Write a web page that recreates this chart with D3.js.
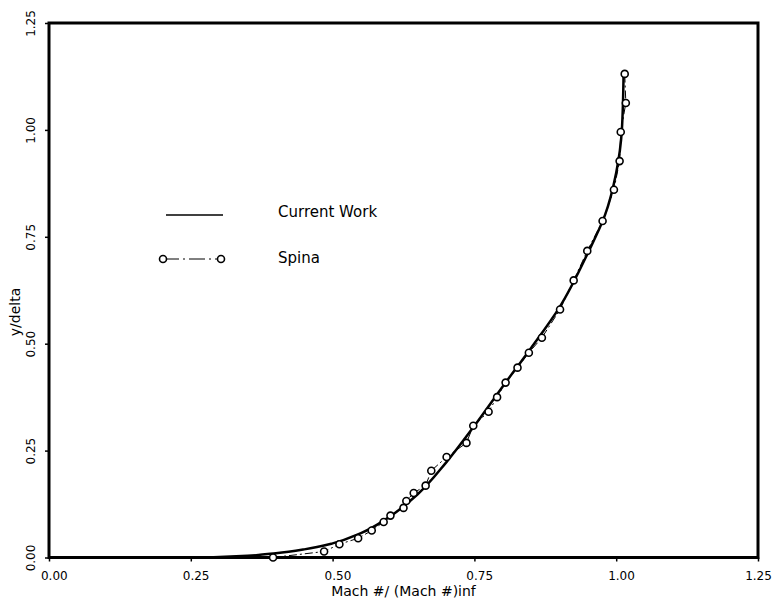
<!DOCTYPE html>
<meta charset="utf-8">
<script src="https://d3js.org/d3.v7.min.js"></script>
<style>
  body { margin: 0; background: #fff; }
  text { font-family: "DejaVu Sans", sans-serif; fill: #000; }
</style>
<div id="chart"></div>
<script>

// axis ticks
var xTicks = [0, 0.25, 0.5, 0.75, 1.0, 1.25];
var yTicks = [0, 0.25, 0.5, 0.75, 1.0, 1.25];

// current work (solid line)
var cwX = [0.28, 0.35, 0.40, 0.45, 0.50, 0.55, 0.60, 0.65, 0.70, 0.75, 0.80, 0.85, 0.90, 0.95, 0.98, 1.00, 1.010, 1.013];
var cwY = [0.000, 0.004, 0.010, 0.019, 0.033, 0.057, 0.095, 0.148, 0.222, 0.308, 0.400, 0.490, 0.585, 0.712, 0.800, 0.900, 1.000, 1.130];

// Spina data (circles)
var spX = [0.395, 0.485, 0.512, 0.545, 0.569, 0.590, 0.602, 0.625, 0.630, 0.643, 0.664, 0.674, 0.701, 0.736, 0.748, 0.775, 0.790, 0.805, 0.826, 0.846, 0.869, 0.901, 0.925, 0.949, 0.976, 0.996, 1.006, 1.008, 1.017, 1.015];
var spY = [0.000, 0.014, 0.031, 0.045, 0.063, 0.083, 0.098, 0.116, 0.132, 0.151, 0.168, 0.203, 0.235, 0.268, 0.308, 0.341, 0.375, 0.409, 0.444, 0.479, 0.514, 0.580, 0.648, 0.717, 0.787, 0.860, 0.927, 0.995, 1.063, 1.131];

var width = 774, height = 605;
var svg = d3.select("#chart").append("svg")
    .attr("width", width)
    .attr("height", height);

var x = d3.scaleLinear().domain([0, 1.25]).range([49, 758]);
var y = d3.scaleLinear().domain([0, 1.25]).range([557.5, 23]);

// x axis
svg.append("g")
    .attr("transform", "translate(0," + y(0) + ")")
    .call(d3.axisBottom(x).tickValues(xTicks).tickSize(4).tickFormat(d3.format(".2f")))
    .call(function(g) {
      g.select(".domain").remove();
      g.selectAll(".tick line").attr("stroke-width", 1.5);
      g.selectAll(".tick text").attr("font-size", 12).attr("dy", "1.3em")
        .attr("dx", function(d) { return d === 1.25 ? "0em" : "0.4em"; });
    });

// y axis, labels rotated
svg.append("g")
    .attr("transform", "translate(" + x(0) + ",0)")
    .call(d3.axisLeft(y).tickValues(yTicks).tickSize(4).tickFormat(d3.format(".2f")))
    .call(function(g) {
      g.select(".domain").remove();
      g.selectAll(".tick line").attr("stroke-width", 1.5);
      g.selectAll(".tick text")
        .attr("font-size", 12)
        .attr("text-anchor", "middle")
        .attr("x", null).attr("dy", null)
        .attr("transform", "translate(-14,0) rotate(-90)");
    });

// frame
svg.append("rect")
    .attr("x", x(0)).attr("y", y(1.25))
    .attr("width", x(1.25) - x(0)).attr("height", y(0) - y(1.25))
    .attr("fill", "none").attr("stroke", "#000").attr("stroke-width", 3);

// axis titles
svg.append("text")
    .attr("x", (x(0) + x(1.25)) / 2).attr("y", 596)
    .attr("text-anchor", "middle").attr("font-size", 14)
    .text("Mach #/ (Mach #)inf");

svg.append("text")
    .attr("transform", "translate(20,312) rotate(-90)")
    .attr("text-anchor", "middle").attr("font-size", 14)
    .text("y/delta");

// current work line
var cw = cwX.map(function(d, i) { return [d, cwY[i]]; });
svg.append("path")
    .datum(cw)
    .attr("d", d3.line().curve(d3.curveMonotoneY)
      .x(function(d) { return x(d[0]); })
      .y(function(d) { return y(d[1]); }))
    .attr("fill", "none").attr("stroke", "#000").attr("stroke-width", 2.5);

// Spina
var sp = spX.map(function(d, i) { return [d, spY[i]]; });
svg.append("path")
    .datum(sp)
    .attr("d", d3.line()
      .x(function(d) { return x(d[0]); })
      .y(function(d) { return y(d[1]); }))
    .attr("fill", "none").attr("stroke", "#000").attr("stroke-width", 1)
    .attr("stroke-dasharray", "8,3,2,3");

svg.selectAll("circle.sp")
    .data(sp)
  .enter().append("circle")
    .attr("class", "sp")
    .attr("cx", function(d) { return x(d[0]); })
    .attr("cy", function(d) { return y(d[1]); })
    .attr("r", 3.5)
    .attr("fill", "#fff").attr("stroke", "#000").attr("stroke-width", 1.6);

// legend
var lg = svg.append("g");
lg.append("line")
    .attr("x1", 166).attr("x2", 223).attr("y1", 215).attr("y2", 215)
    .attr("stroke", "#000").attr("stroke-width", 1.5);
lg.append("text").attr("x", 278).attr("y", 217).attr("font-size", 15).text("Current Work");

lg.append("line")
    .attr("x1", 163).attr("x2", 221).attr("y1", 259).attr("y2", 259)
    .attr("stroke", "#000").attr("stroke-width", 1)
    .attr("stroke-dasharray", "16,4,2,4");
lg.selectAll("circle")
    .data([163, 221])
  .enter().append("circle")
    .attr("cx", function(d) { return d; }).attr("cy", 259).attr("r", 3.5)
    .attr("fill", "#fff").attr("stroke", "#000").attr("stroke-width", 1.6);
lg.append("text").attr("x", 278).attr("y", 263).attr("font-size", 15).text("Spina");

</script>
